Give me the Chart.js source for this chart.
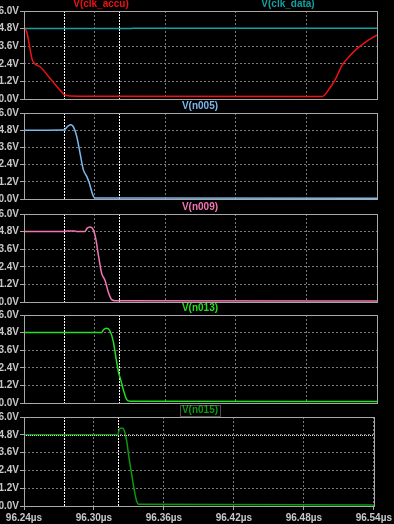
<!DOCTYPE html>
<html><head><meta charset="utf-8">
<script src="https://cdn.jsdelivr.net/npm/chart.js@4/dist/chart.umd.min.js"></script>
<style>
html,body{margin:0;padding:0;background:#000;width:394px;height:524px;overflow:hidden}
body{position:relative}
canvas{position:absolute;left:0}
</style></head><body>
<canvas id="c1"></canvas>
<canvas id="c2"></canvas>
<canvas id="c3"></canvas>
<canvas id="c4"></canvas>
<canvas id="c5"></canvas>
<script>
// ---- data (time in µs, voltage in V) ----
const timeTicks = [96.24, 96.30, 96.36, 96.42, 96.48, 96.54];
const voltTicks = [0, 1.2, 2.4, 3.6, 4.8, 6.0];
const cursorTimes = [96.274, 96.3207];
const cursorVolt = 4.8;

const clkAccuT = [96.24, 96.2408, 96.2423, 96.2474, 96.2536, 96.2621, 96.2692, 96.274, 96.2791, 96.30, 96.4935, 96.4992, 96.505, 96.5105, 96.5162, 96.5233, 96.5318, 96.54];
const clkAccuV = [4.9, 4.8, 4.59, 2.59, 2.2, 1.41, 0.73, 0.32, 0.2, 0.18, 0.17, 0.66, 1.41, 2.32, 2.88, 3.45, 3.97, 4.36];

const clkDataT = [96.24, 96.3315, 96.3320, 96.54];
const clkDataV = [4.8, 4.8, 4.82, 4.82];

const n005T = [96.24, 96.274, 96.2776, 96.2799, 96.2825, 96.2848, 96.2876, 96.2904, 96.2933, 96.2955, 96.2984, 96.3003, 96.54];
const n005V = [4.8, 4.82, 5.11, 5.18, 4.95, 4.37, 3.21, 2.05, 1.58, 1.12, 0.30, 0.07, 0.06];

const n009T = [96.24, 96.2745, 96.2763, 96.2833, 96.2848, 96.2918, 96.2935, 96.2961, 96.2989, 96.3009, 96.3032, 96.3060, 96.3088, 96.3116, 96.3145, 96.3173, 96.54];
const n009V = [4.8, 4.8, 4.84, 4.84, 4.8, 4.8, 5.02, 5.11, 4.92, 4.35, 3.21, 1.95, 1.49, 0.69, 0.16, 0.09, 0.07];

const n013T = [96.24, 96.306, 96.3074, 96.3103, 96.3131, 96.3159, 96.3182, 96.3205, 96.3222, 96.3244, 96.3273, 96.3301, 96.54];
const n013V = [4.8, 4.8, 4.98, 5.09, 4.91, 4.19, 3.06, 2.04, 1.58, 0.91, 0.23, 0.12, 0.11];

const n015T = [96.24, 96.3205, 96.3216, 96.3239, 96.3261, 96.3281, 96.3301, 96.3324, 96.3343, 96.3363, 96.3386, 96.54];
const n015V = [4.8, 4.8, 5.14, 5.26, 5.08, 4.35, 3.23, 2.10, 1.2, 0.41, 0.11, 0.07];

// ---- layout / style ----
const W = 394, H = 524, PADT = 14;
const panes = [
  {id:'c1', top:11, bottom:99, series:[
    {label:'V(clk_accu)', t:clkAccuT, v:clkAccuV, color:'#f01212', lx:101},
    {label:'V(clk_data)', t:clkDataT, v:clkDataV, color:'#12a0a0', lx:288}]},
  {id:'c2', top:113, bottom:199, series:[
    {label:'V(n005)', t:n005T, v:n005V, color:'#7cb8ec', lx:200}]},
  {id:'c3', top:214, bottom:302, series:[
    {label:'V(n009)', t:n009T, v:n009V, color:'#f276b0', lx:200}]},
  {id:'c4', top:315, bottom:403, series:[
    {label:'V(n013)', t:n013T, v:n013V, color:'#22e022', lx:200}]},
  {id:'c5', top:417, bottom:506, last:true, hCursor:true, boxed:true, series:[
    {label:'V(n015)', t:n015T, v:n015V, color:'#0a9a0a', lx:200}]}
];

const FONT = '"Liberation Sans", Arial, sans-serif';
const GRID = '#7a7a7a', FRAME = '#a8a8a8', TXT = '#c8c8c8';

const decor = {
  id:'decor',
  beforeDatasetsDraw(chart){
    const {ctx, chartArea:a, scales:{x}} = chart;
    ctx.save();
    ctx.beginPath(); ctx.rect(a.left, a.top, a.right-a.left, a.bottom-a.top); ctx.clip();
    ctx.strokeStyle = '#ffffff'; ctx.lineWidth = 1; ctx.setLineDash([2,1]);
    cursorTimes.forEach(t => {
      const px = Math.round(x.getPixelForValue(t)) + 0.5;
      ctx.beginPath(); ctx.moveTo(px, a.top); ctx.lineTo(px, a.bottom); ctx.stroke();
    });
    ctx.restore();
  },
  afterDatasetsDraw(chart, args, opts){
    if (!opts.hCursor) return;
    const {ctx, chartArea:a, scales:{y}} = chart;
    const py = Math.round(y.getPixelForValue(cursorVolt)) + 0.5;
    ctx.save();
    ctx.strokeStyle = '#d8d8d8'; ctx.lineWidth = 1; ctx.setLineDash([1,1]);
    ctx.beginPath(); ctx.moveTo(a.left, py); ctx.lineTo(a.right, py); ctx.stroke();
    ctx.restore();
  },
  afterDraw(chart, args, opts){
    const {ctx, chartArea:a} = chart;
    ctx.save();
    ctx.strokeStyle = FRAME; ctx.lineWidth = 1; ctx.setLineDash([]);
    ctx.strokeRect(Math.round(a.left)+0.5, Math.round(a.top)+0.5, Math.round(a.right-a.left), Math.round(a.bottom-a.top));
    ctx.font = 'bold 10px ' + FONT;
    ctx.textAlign = 'center'; ctx.textBaseline = 'middle';
    chart.data.datasets.forEach((ds, i) => {
      const lx = opts.labelX[i], ly = a.top - 6.5;
      ctx.fillStyle = ds.borderColor;
      ctx.fillText(ds.label, lx, ly);
      if (opts.boxed) {
        const w = ctx.measureText(ds.label).width;
        ctx.strokeStyle = '#9a9a9a'; ctx.setLineDash([1,1]);
        ctx.strokeRect(Math.round(lx - w/2 - 2)+0.5, Math.round(ly - 6)+0.5, Math.round(w + 4), 11);
      }
    });
    ctx.restore();
  }
};

panes.forEach(p => {
  const cv = document.getElementById(p.id);
  const ctop = p.top - PADT;
  const ch = p.last ? (H - ctop) : (p.bottom - p.top + PADT + 8);
  cv.width = W; cv.height = ch;
  cv.style.top = ctop + 'px'; cv.style.width = W + 'px'; cv.style.height = ch + 'px';
  const xH = p.last ? (H - p.bottom) : 0;
  new Chart(cv, {
    type:'line',
    data:{datasets: p.series.map(s => ({
      label:s.label,
      data:s.t.map((t,i) => ({x:t, y:s.v[i]})),
      borderColor:s.color, backgroundColor:s.color,
      borderWidth:1.5, pointRadius:0, fill:false,
      cubicInterpolationMode:'monotone'
    }))},
    options:{
      responsive:false, animation:false, devicePixelRatio:1,
      layout:{padding:{left:0, right:17, top:PADT, bottom:p.last ? 0 : 8}},
      plugins:{legend:{display:false}, tooltip:{enabled:false},
        decor:{labelX:p.series.map(s => s.lx), hCursor:!!p.hCursor, boxed:!!p.boxed}},
      scales:{
        x:{type:'linear', min:timeTicks[0], max:timeTicks[timeTicks.length-1],
          afterBuildTicks:s => { s.ticks = timeTicks.map(v => ({value:v})); },
          afterFit:s => { s.height = xH; },
          grid:{color:GRID, lineWidth:1, drawTicks:!!p.last, tickLength:4, tickColor:FRAME},
          border:{display:false, dash:[2,2]},
          ticks:{display:!!p.last, color:TXT, padding:2, maxRotation:0, autoSkip:false,
            font:{family:FONT, size:10, weight:'bold'},
            callback:v => v.toFixed(2) + 'µs'}},
        y:{min:voltTicks[0], max:voltTicks[voltTicks.length-1],
          afterBuildTicks:s => { s.ticks = voltTicks.map(v => ({value:v})); },
          afterFit:s => { s.width = 24; },
          grid:{color:GRID, lineWidth:1, drawTicks:true, tickLength:4, tickColor:FRAME},
          border:{display:false, dash:[2,2]},
          ticks:{color:TXT, padding:1, font:{family:FONT, size:10, weight:'bold'},
            callback:v => v.toFixed(1) + 'V'}}
      }
    },
    plugins:[decor]
  });
});
</script>
</body></html>
